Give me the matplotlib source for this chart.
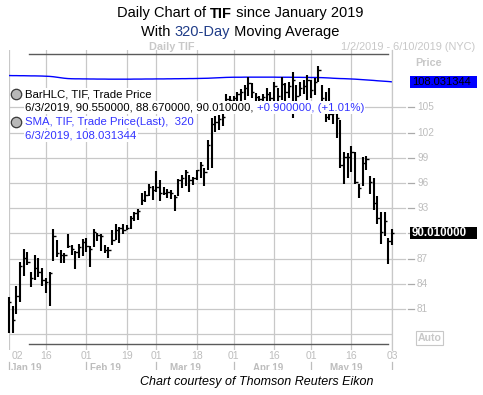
import matplotlib
matplotlib.use("Agg")
import matplotlib.pyplot as plt
import pandas as pd
import numpy as np
from matplotlib.patches import Rectangle
from matplotlib.lines import Line2D

W, H = 483, 395

# ---------------- data ----------------
highs = [
    82.42, 81.31, 83.69, 86.58, 88.10, 87.74, 85.36, 87.38, 87.02, 85.83,
    84.64, 85.36, 90.48, 89.17, 87.98, 87.62, 89.88, 88.57, 87.86, 88.69,
    89.29, 89.40, 88.45, 90.48, 90.00, 89.88, 88.65, 88.37, 90.36, 91.07,
    90.75, 91.07, 90.95, 92.06, 92.54, 92.86, 94.80, 95.00, 95.92, 95.60,
    97.38, 96.39, 95.51, 95.32, 95.12, 94.52, 96.51, 96.99, 97.50, 96.99,
    96.70, 97.58, 98.45, 97.74, 101.07, 103.69, 103.93, 104.05, 104.17, 106.55,
    106.31, 106.31, 106.79, 107.14, 107.62, 108.57, 107.86, 106.67, 106.31, 106.55,
    107.26, 106.79, 107.98, 107.26, 108.57, 107.86, 107.98, 109.17, 107.62, 107.98,
    108.21, 108.81, 108.21, 108.45, 109.88, 107.62, 106.79, 107.26, 104.64, 104.17,
    103.45, 99.64, 99.52, 100.36, 99.64, 95.83, 99.05, 99.17, 96.79, 96.55,
    94.40, 92.50, 92.50, 89.40, 90.55,
]
lows = [
    78.13, 78.13, 80.36, 81.82, 84.88, 86.19, 83.57, 84.40, 84.76, 83.69,
    82.86, 81.31, 86.67, 87.14, 86.43, 86.43, 88.21, 87.38, 85.71, 87.02,
    87.26, 87.74, 85.95, 88.33, 89.05, 87.86, 87.65, 87.11, 88.57, 89.17,
    88.89, 89.96, 90.44, 90.48, 91.46, 91.63, 93.33, 93.73, 94.44, 93.93,
    94.92, 93.85, 94.52, 94.25, 94.05, 92.65, 94.44, 95.44, 95.60, 94.92,
    95.71, 96.31, 96.55, 95.60, 97.50, 97.74, 102.02, 102.26, 102.74, 104.40,
    104.88, 104.88, 105.12, 105.36, 105.83, 106.31, 106.07, 104.64, 104.88, 104.64,
    105.36, 105.12, 105.60, 105.36, 105.83, 105.36, 106.07, 103.69, 105.36, 106.31,
    106.55, 105.83, 106.07, 106.43, 107.98, 105.36, 103.21, 103.45, 102.98, 101.31,
    97.74, 95.83, 96.55, 97.26, 95.83, 94.17, 95.60, 97.50, 94.64, 92.74,
    91.07, 88.69, 89.64, 86.31, 88.67,
]
closes = [
    81.82, 79.64, 82.50, 86.07, 87.02, 86.55, 84.64, 85.83, 85.36, 84.40,
    84.17, 85.24, 89.64, 87.62, 87.38, 87.38, 88.45, 88.10, 87.74, 88.33,
    88.93, 88.45, 88.10, 90.12, 89.76, 89.64, 88.00, 87.98, 89.17, 90.36,
    90.60, 90.36, 90.60, 91.79, 92.38, 92.62, 93.93, 94.52, 95.48, 95.12,
    95.48, 94.76, 94.76, 94.88, 94.76, 94.29, 96.31, 96.55, 97.26, 96.31,
    96.55, 97.50, 98.10, 97.26, 100.48, 102.98, 103.21, 103.57, 103.81, 105.95,
    105.83, 106.07, 106.55, 106.79, 107.26, 107.86, 106.79, 106.19, 105.95, 106.19,
    106.55, 106.07, 107.50, 106.31, 107.74, 106.79, 107.50, 108.21, 106.31, 107.26,
    107.50, 108.21, 107.02, 107.98, 109.40, 106.07, 103.81, 104.17, 104.29, 103.69,
    98.10, 99.05, 99.05, 99.64, 96.07, 95.36, 98.33, 98.81, 96.07, 93.57,
    91.79, 90.12, 91.43, 89.11, 90.01,
]
sma320 = [
    108.78, 108.77, 108.77, 108.76, 108.76, 108.75, 108.74, 108.74, 108.73, 108.72,
    108.70, 108.68, 108.64, 108.58, 108.52, 108.46, 108.42, 108.40, 108.39, 108.39,
    108.38, 108.38, 108.37, 108.37, 108.36, 108.36, 108.36, 108.35, 108.35, 108.35,
    108.35, 108.35, 108.35, 108.35, 108.36, 108.36, 108.36, 108.37, 108.37, 108.37,
    108.38, 108.38, 108.38, 108.39, 108.39, 108.40, 108.40, 108.41, 108.41, 108.42,
    108.42, 108.43, 108.44, 108.45, 108.46, 108.48, 108.50, 108.52, 108.54, 108.56,
    108.57, 108.58, 108.58, 108.58, 108.59, 108.59, 108.59, 108.59, 108.59, 108.59,
    108.59, 108.59, 108.59, 108.58, 108.58, 108.58, 108.58, 108.57, 108.57, 108.57,
    108.56, 108.56, 108.55, 108.55, 108.54, 108.53, 108.51, 108.49, 108.46, 108.44,
    108.42, 108.41, 108.39, 108.37, 108.35, 108.32, 108.29, 108.26, 108.23, 108.20,
    108.16, 108.13, 108.10, 108.07, 108.031344,
]
holidays = ["2019-01-21", "2019-02-18", "2019-04-19", "2019-05-27"]
tick_dates = ["2019-01-02", "2019-01-16", "2019-02-01", "2019-02-19", "2019-03-01",
              "2019-03-18", "2019-04-01", "2019-04-16", "2019-05-01", "2019-05-16",
              "2019-06-03"]
tick_labels = ["02", "16", "01", "19", "01", "18", "01", "16", "01", "16", "03"]
month_labels = ["Jan 19", "Feb 19", "Mar 19", "Apr 19", "May 19"]
month_label_pos = [4.6, 26.3, 47.9, 70.3, 91.6]
month_starts = ["2019-01-02", "2019-02-01", "2019-03-01", "2019-04-01",
                "2019-05-01", "2019-06-03"]
price_ticks = [81, 84, 87, 90, 93, 96, 99, 102, 105]
grid_prices = [78, 81, 84, 87, 90, 93, 96, 99, 102, 105]
last_open_info = "6/3/2019"
bar_high, bar_low, bar_close, bar_change, bar_pct = 90.55, 88.67, 90.01, 0.90, 1.01
last_sma = 108.031344

for name, arr in [("highs", highs), ("lows", lows), ("closes", closes), ("sma", sma320)]:
    if len(arr) != 105:
        raise ValueError(f"{name} has {len(arr)}")

days = pd.bdate_range("2019-01-02", "2019-06-03")
days = days[~days.isin(pd.to_datetime(holidays))]
xs = np.arange(len(days))

plt.rcParams['font.family'] = ['Liberation Sans', 'DejaVu Sans']

fig = plt.figure(figsize=(W / 100, H / 100), dpi=100)
fig.patch.set_facecolor('white')


def fx(x):
    return x / W


def fy(y):
    return 1 - y / H


GRID = '#c8c8c8'
LBL = '#bdbdbd'

ax = fig.add_axes([fx(9), fy(350), (392 - 9) / W, 300 / H])
ax.set_xlim(0, 104)
ax.set_ylim(76.12, 111.82)
for s in ['top', 'left', 'bottom']:
    ax.spines[s].set_visible(False)
ax.spines['right'].set_color(GRID)
ax.spines['right'].set_linewidth(0.9)
ax.set_yticks([])
tick_pos = days.get_indexer(pd.to_datetime(tick_dates))
ax.set_xticks([])

for p in grid_prices:
    ax.axhline(p, color=GRID, lw=0.9, zorder=0)
for tp in tick_pos:
    ax.axvline(tp, color=GRID, lw=0.9, zorder=0)

# SMA line
ax.plot(xs, sma320, color='#0000ff', lw=1.0, zorder=2)
# HLC bars
ax.vlines(xs, lows, highs, colors='black', lw=1.5, zorder=3, clip_on=False)
ax.hlines(closes, xs, xs + 0.65, colors='black', lw=1.0, zorder=3, clip_on=False)

# x tick labels
ytr = ax.get_xaxis_transform()
for i, (tp, lab) in enumerate(zip(tick_pos, tick_labels)):
    if i == 0:
        ax.text(tp + 0.7, -0.003, lab, transform=ytr, ha='left', va='top',
                fontsize=7.5, color=LBL, clip_on=False)
    else:
        ax.text(tp, -0.003, lab, transform=ytr, ha='center', va='top',
                fontsize=7.5, color=LBL, clip_on=False)
ms_pos = days.get_indexer(pd.to_datetime(month_starts))
for mp in ms_pos:
    ax.plot([mp, mp], [-0.04, -0.068], transform=ytr, color=LBL, lw=0.9, clip_on=False)
for mp, lab in zip(month_label_pos, month_labels):
    ax.text(mp, -0.043, lab, transform=ytr, ha='center', va='top', fontsize=7.0,
            fontweight='bold', color=LBL, clip_on=False, zorder=3)

# right price axis (the 90 label is hidden behind the last-price box)
ptr = ax.get_yaxis_transform()
for p in price_ticks:
    ax.plot([1.0, 1.034], [p, p], transform=ptr, color=GRID, lw=0.9, clip_on=False)
    ax.plot([1.042, 1.057], [p, p], transform=ptr, color='#aaaaaa', lw=0.9, clip_on=False)
    if abs(p - bar_close) > 1.0:
        ax.text(1.0653, p, f"{p}", transform=ptr, ha='left', va='center',
                fontsize=7.2, color=LBL, clip_on=False)

# value boxes
ax.add_patch(Rectangle((1.047, last_sma - 0.74), 0.175, 1.48, transform=ptr,
                       fc='#0000ff', ec='none', clip_on=False, zorder=6))
ax.text(1.0522, last_sma, f"{last_sma:.6f}", transform=ptr, ha='left',
        va='center', fontsize=8, color='black', clip_on=False, zorder=7)
ax.add_patch(Rectangle((1.047, bar_close - 0.74), 0.175, 1.48, transform=ptr,
                       fc='black', ec='none', clip_on=False, zorder=6))
ax.text(1.0522, bar_close, f"{bar_close:.6f}", transform=ptr, ha='left',
        va='center', fontsize=8.3, fontweight='bold', color='white',
        clip_on=False, zorder=7)

# frame lines
fig.add_artist(Line2D([fx(29), fx(388)], [fy(54), fy(54)], color='#5a5a5a', lw=1.0))
fig.add_artist(Line2D([fx(29), fx(388)], [fy(344), fy(344)], color='#5a5a5a', lw=1.0))

renderer = fig.canvas.get_renderer()


def measure(s, **kw):
    t1 = fig.text(0, 0, s + '|', **kw)
    w1 = t1.get_window_extent(renderer).width
    t1.remove()
    t2 = fig.text(0, 0, '|', **kw)
    w2 = t2.get_window_extent(renderer).width
    t2.remove()
    return w1 - w2


def segments(x, y, segs, ha='left', **base):
    widths = [measure(s, **{**base, **p}) for s, p in segs]
    start = x - sum(widths) / 2 if ha == 'center' else x
    for (s, p), w in zip(segs, widths):
        fig.text(fx(start), fy(y), s, ha='left', va='baseline', **{**base, **p})
        start += w


# title
segments(240, 17.5, [("Daily Chart of ", {}), ("TIF", {'fontweight': 'bold'}),
                     (" since January 2019", {})], ha='center', fontsize=10.5, color='black')
segments(240, 36, [("With ", {}), ("320-Day", {'color': '#1f3c88'}),
                   (" Moving Average", {})], ha='center', fontsize=10.5, color='black')

fig.text(fx(172), fy(49.5), "Daily TIF", ha='center', va='baseline', fontsize=7.8,
         fontweight='bold', color='#c8c8c8')
fig.text(fx(475), fy(49.5), "1/2/2019 - 6/10/2019 (NYC)", ha='right', va='baseline',
         fontsize=7.9, color='#c8c8c8')
fig.text(fx(415), fy(65.5), "Price", ha='left', va='baseline', fontsize=7.8,
         fontweight='bold', color='#c8c8c8')

# Auto box
fig.text(fx(418), fy(341), "Auto", ha='left', va='baseline', fontsize=7.6,
         fontweight='bold', color='#c8c8c8',
         bbox=dict(boxstyle='square,pad=0.15', fc='white', ec='#c8c8c8', lw=0.8))

# legend
BLUE = '#3333ff'
bb = dict(boxstyle='square,pad=0.12', fc='white', ec='none')
for yy in (93.5, 121.5):
    fig.add_artist(Line2D([fx(16)], [fy(yy)], marker='o', ms=7.5, mfc='#b8b8b8',
                          mec='#3a3a3a', mew=0.9, zorder=8))
fig.text(fx(25), fy(97.7), "BarHLC, TIF, Trade Price", ha='left', va='baseline',
         fontsize=8.2, color='black', bbox=bb, zorder=7)
segments(25, 110.7, [
    (f"{last_open_info}, {bar_high:.6f}, {bar_low:.6f}, {bar_close:.6f}, ", {'color': 'black'}),
    (f"+{bar_change:.6f}, (+{bar_pct:.2f}%)", {'color': BLUE})],
    fontsize=8.2, bbox=bb, zorder=7)
fig.text(fx(25), fy(125), "SMA, TIF, Trade Price(Last),  320", ha='left', va='baseline',
         fontsize=8.2, color=BLUE, bbox=bb, zorder=7)
fig.text(fx(25), fy(139), f"{last_open_info}, {last_sma:.6f}", ha='left', va='baseline',
         fontsize=8.2, color=BLUE, bbox=bb, zorder=7)

# clip month labels (they are cut off at the bottom in the original)
fig.add_artist(Rectangle((0, 0), 1, fy(369.5), transform=fig.transFigure,
                         fc='white', ec='none', zorder=9))
fig.text(fx(257), fy(385), "Chart courtesy of Thomson Reuters Eikon", ha='center',
         va='baseline', fontsize=9, style='italic', color='black', zorder=10)

fig.savefig("out.png", dpi=100, facecolor='white')
